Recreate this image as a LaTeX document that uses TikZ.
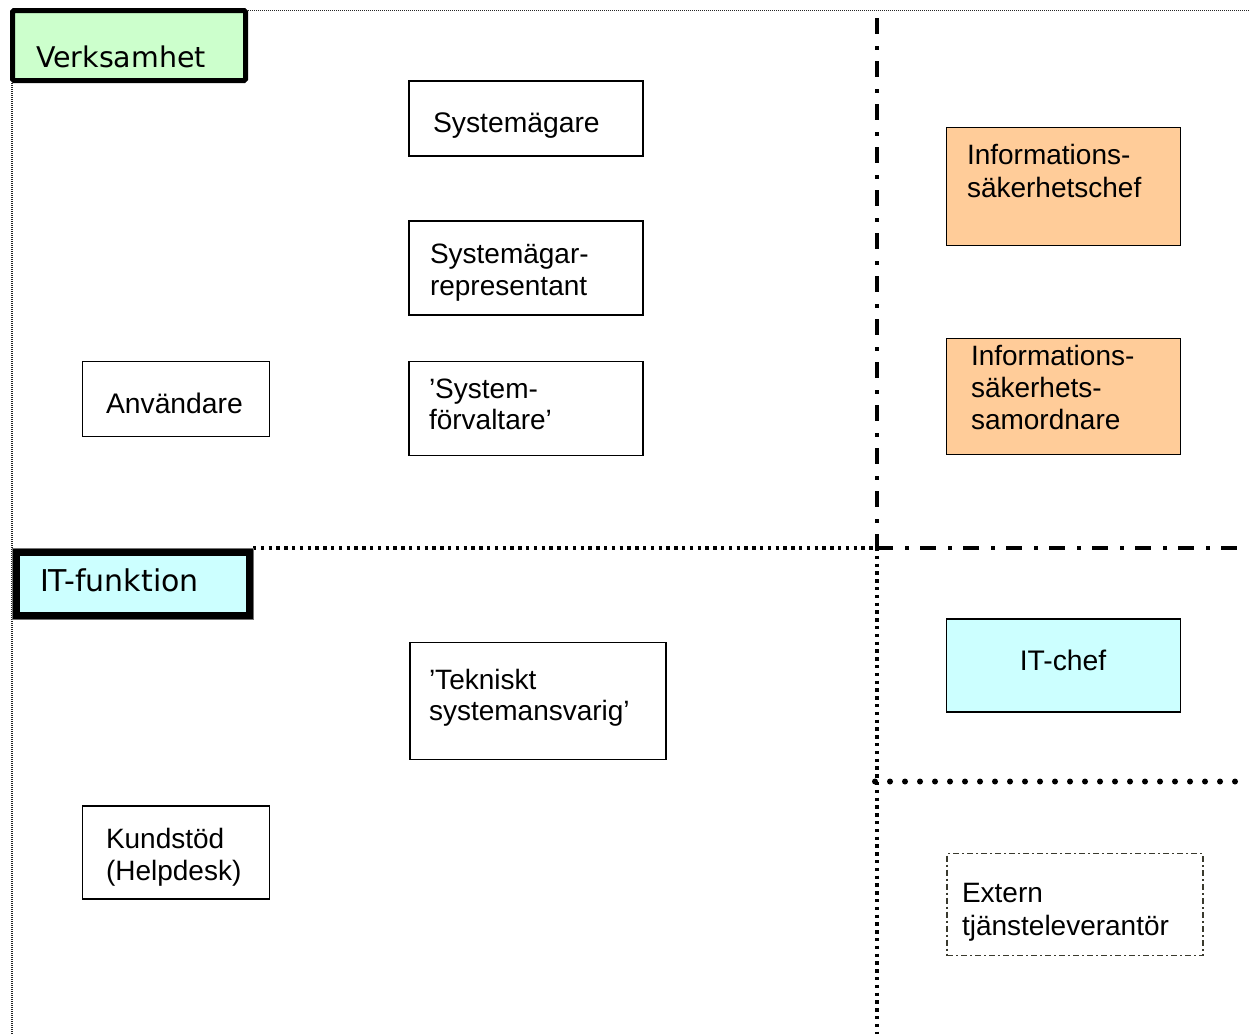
\documentclass[tikz,border=0pt]{standalone}
\usepackage{fontspec}
\setmainfont{Liberation Sans}
\newfontfamily\headfont{DejaVu Sans}
\definecolor{vgreen}{HTML}{CCFFCC}
\definecolor{itcyan}{HTML}{CCFFFF}
\definecolor{peach}{HTML}{FFCC99}
\definecolor{extline}{HTML}{3A3A2E}
\newcommand{\mlines}[2]{{\fontsize{28}{#1}\selectfont\begin{tabular}[t]{@{}l@{}}#2\end{tabular}}}
\begin{document}
\begin{tikzpicture}[x=1pt,y=-1pt,
  box/.style={draw=black, line width=1.4pt, anchor=north west, inner sep=0pt, outer sep=0pt, fill=white},
  lbl/.style={anchor=base west, inner sep=0pt, outer sep=0pt, font=\fontsize{28.3}{32}\selectfont},
  head/.style={anchor=base west, inner sep=0pt, outer sep=0pt},
  frameline/.style={draw=black!85, line width=1.1pt, dash pattern=on 1pt off 1pt},
  dashdotline/.style={line width=4pt, dash pattern=on 16pt off 12pt on 3.5pt off 11.5pt},
  sqdotline/.style={line width=3.3pt, dash pattern=on 3.3pt off 4.5pt},
  rounddotline/.style={line width=6pt, line cap=round, dash pattern=on 0pt off 15pt}]
\useasboundingbox (0,0) rectangle (1249,1034);

% frame coordinates
\coordinate (ftopL) at (248,10.5);
\coordinate (ftopR) at (1249,10.5);
\coordinate (fleftT) at (12,83);
\coordinate (fleftB) at (12,1034);
\coordinate (vTop) at (877,18);
\coordinate (cross) at (877,548);
\coordinate (vBot) at (877,1034);
\coordinate (hRight) at (1249,548);
\coordinate (hLeft) at (253,548);
\coordinate (rdL) at (875,781.5);
\coordinate (rdR) at (1240,781.5);

% thin frame
\draw[frameline] (ftopL) -- (ftopR);
\draw[frameline] (fleftT) -- (fleftB);

% separators
\draw[dashdotline] (vTop) -- (cross);
\draw[dashdotline] (cross) -- (hRight);
\draw[sqdotline] (hLeft) -- (cross);
\draw[sqdotline] (cross) -- (vBot);
\draw[rounddotline] (rdL) -- (rdR);

% Verksamhet
\node[draw=black, line width=5pt, fill=vgreen, rounded corners=1.5pt, anchor=north west,
      inner sep=0pt, outer sep=0pt, minimum width=233pt, minimum height=70pt] (verk) at (12.5,10.5) {};
\node[head, font=\headfont\fontsize{28.5}{32}\selectfont] (verkT) at (36,67) {Verksamhet};

% IT-funktion
\node[draw=black!55, line width=0.9pt, anchor=north west, inner sep=0pt, outer sep=0pt,
      minimum width=241pt, minimum height=71pt] (itfo) at (12.5,548.5) {};
\node[draw=black, line width=7.5pt, fill=itcyan, anchor=north west, inner sep=0pt, outer sep=0pt,
      minimum width=233pt, minimum height=63pt] (itf) at (16.5,552.5) {};
\node[head, font=\headfont\fontsize{30}{32}\selectfont] (itfT) at (40,591) {IT-funktion};

% boxes
\node[box, minimum width=234pt, minimum height=75pt] (sag) at (409,81) {};
\node[lbl] (sagT) at (433,132) {Systemägare};

\node[box, minimum width=234pt, minimum height=94pt] (sagr) at (409,221) {};
\node[lbl] (sagrT) at (430,263) {\mlines{32}{Systemägar-\\representant}};

\node[box, minimum width=234pt, minimum height=94pt] (sfv) at (409,361.5) {};
\node[lbl] (sfvT) at (429,398) {\mlines{31}{’System-\\förvaltare’}};

\node[box, minimum width=187pt, minimum height=75pt] (anv) at (82.5,361.5) {};
\node[lbl] (anvT) at (106,413) {Användare};

\node[box, minimum width=256pt, minimum height=117pt] (tek) at (410,642.5) {};
\node[lbl] (tekT) at (429,689) {\mlines{31}{’Tekniskt\\systemansvarig’}};

\node[box, minimum width=187pt, minimum height=93pt] (kund) at (82.5,806) {};
\node[lbl] (kundT) at (106,848) {\mlines{32}{Kundstöd\\(Helpdesk)}};

\node[box, fill=peach, minimum width=234pt, minimum height=118pt] (isc) at (946.5,127.5) {};
\node[lbl] (iscT) at (967,164) {\mlines{33}{Informations-\\säkerhetschef}};

\node[box, fill=peach, minimum width=234pt, minimum height=116pt] (iss) at (946.5,338.5) {};
\node[lbl] (issT) at (971,365) {\mlines{32}{Informations-\\säkerhets-\\samordnare}};

\node[box, fill=itcyan, minimum width=234pt, minimum height=93pt] (itc) at (946.5,619) {};
\node[anchor=base, inner sep=0pt, font=\fontsize{28.3}{32}\selectfont] (itcT) at (1063,670) {IT-chef};

\node[box, draw=extline, line width=1.6pt, dash pattern=on 6pt off 3pt on 2pt off 3pt,
      minimum width=256pt, minimum height=102pt] (ext) at (947,853.5) {};
\node[lbl] (extT) at (962,902) {\mlines{33}{Extern\\tjänsteleverantör}};
\end{tikzpicture}
\end{document}
